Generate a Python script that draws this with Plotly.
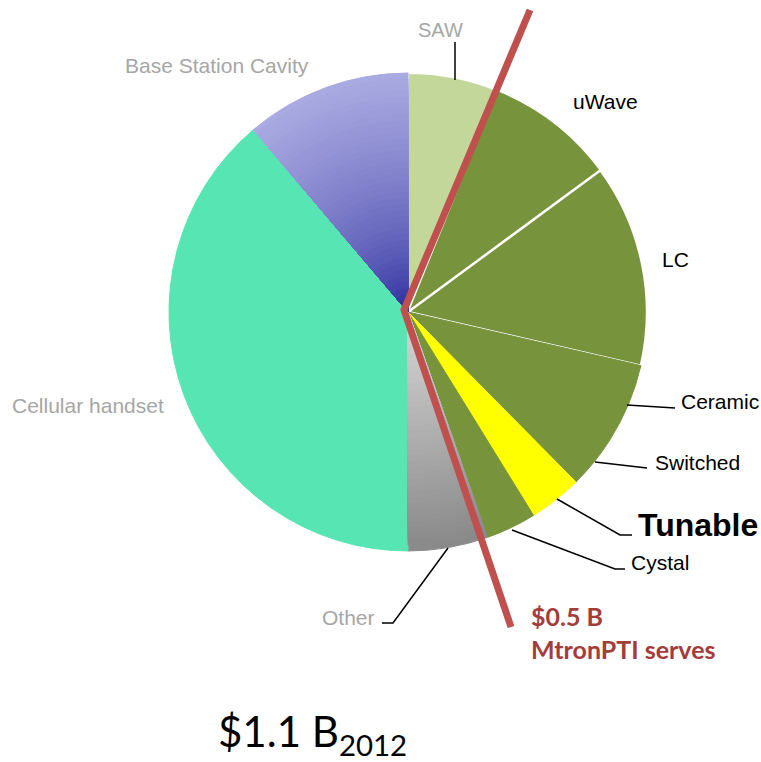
import plotly.graph_objects as go

# ---- data ----
segments = ["SAW", "uWave", "LC", "Ceramic", "Switched", "Tunable", "Cystal",
            "Other", "Cellular handset", "Base Station Cavity"]
shares = [6.1, 8.8, 13.7, 5.4, 3.6, 3.6, 3.4, 5.4, 38.8, 11.2]
slice_colors = ["#c4d79b", "#77933c", "#77933c", "#77933c", "#77933c", "#ffff00",
                "#77933c", "#8a8a8a", "#58e5b4", "#aaaae2"]
border_colors = ["white", "white", "white", "#77933c", "#77933c", "#ffff00",
                 "#77933c", "#8a8a8a", "#58e5b4", "#aaaae2"]
border_widths = [2, 1.5, 2.5, 1, 1, 1, 1, 1, 1, 1]

# radial shading (inner colour -> outer colour) for the shaded segments
shade_inner = {"Other": (216, 216, 216), "Base Station Cavity": (30, 30, 150)}
shade_outer = {"Other": (136, 136, 136), "Base Station Cavity": (170, 170, 226)}

total_label = "$1.1 B"
total_year = "2012"
served_value = "$0.5 B"
served_text = "MtronPTI serves"

W, H = 761, 762
CX, CY, R = 408, 312, 239


def px(x):
    return x / W


def py(y):
    return 1 - y / H


def dom(r):
    return dict(x=[px(CX - r), px(CX + r)], y=[py(CY + r), py(CY - r)])


fig = go.Figure()
fig.add_trace(go.Pie(
    labels=segments, values=shares, sort=False, direction="clockwise",
    rotation=0, textinfo="none", hoverinfo="label+percent",
    marker=dict(colors=slice_colors, line=dict(color=border_colors, width=border_widths)),
    domain=dom(R), showlegend=False,
))

N = 40
for k in range(1, N):
    r = R * (N - k) / N
    t = r / R - 0.5 / N
    cols = []
    for name in segments:
        if name in shade_inner:
            a, b = shade_inner[name], shade_outer[name]
            tt = t ** 0.6 if name == "Base Station Cavity" else t
            c = tuple(int(round(a[i] + (b[i] - a[i]) * tt)) for i in range(3))
            cols.append(f"rgb{c}")
        else:
            cols.append("rgba(0,0,0,0)")
    fig.add_trace(go.Pie(
        labels=segments, values=shares, sort=False, direction="clockwise",
        rotation=0, textinfo="none", hoverinfo="skip",
        marker=dict(colors=cols, line=dict(color=cols, width=1)),
        domain=dom(r), showlegend=False,
    ))

# label annotations: (text, x, y, anchor, color, size, bold)
label_specs = [
    ("SAW", 440, 30, "center", "#a6a6a6", 20, False),
    ("Base Station Cavity", 217, 66, "center", "#a6a6a6", 21, False),
    ("uWave", 605, 102, "center", "#000000", 21, False),
    ("LC", 675, 259, "center", "#000000", 21, False),
    ("Ceramic", 679, 402, "left", "#000000", 21, False),
    ("Switched", 653, 462, "left", "#000000", 21, False),
    ("Tunable", 636, 525, "left", "#000000", 32, True),
    ("Cystal", 629, 562, "left", "#000000", 21, False),
    ("Other", 377, 617, "right", "#a6a6a6", 21, False),
    ("Cellular handset", 88, 405, "center", "#a6a6a6", 21, False),
]
annotations = []
for text, x, y, anc, col, size, bold in label_specs:
    annotations.append(dict(
        text=f"<b>{text}</b>" if bold else text, x=px(x), y=py(y),
        xref="paper", yref="paper", xanchor=anc, yanchor="middle",
        showarrow=False, font=dict(family="Liberation Sans, Arial", size=size, color=col),
    ))

annotations.append(dict(
    text=f"<b>{served_value}</b>", x=px(529), y=py(616), xref="paper", yref="paper",
    xanchor="left", yanchor="middle", showarrow=False,
    font=dict(family="Lato", size=25, color="#a33c3a")))
annotations.append(dict(
    text=f"<b>{served_text}</b>", x=px(529), y=py(649), xref="paper", yref="paper",
    xanchor="left", yanchor="middle", showarrow=False,
    font=dict(family="Lato", size=25, color="#a33c3a")))
annotations.append(dict(
    text=f"{total_label}<sub>{total_year}</sub>", x=px(216), y=py(734), xref="paper", yref="paper",
    xanchor="left", yanchor="middle", showarrow=False,
    font=dict(family="Lato", size=42, color="#000000")))

# leader lines (pixel coordinates)
leaders = [
    [(455, 42), (455, 80)],
    [(627, 405), (675, 408)],
    [(595, 462), (647, 468)],
    [(557, 499), (620, 535), (632, 535)],
    [(512, 530), (615, 569), (625, 569)],
    [(448, 548), (393, 623), (382, 623)],
]
shapes = []
for pts in leaders:
    path = "M " + " L ".join(f"{px(x)} {py(y)}" for x, y in pts)
    shapes.append(dict(type="path", path=path, xref="paper", yref="paper",
                       line=dict(color="black", width=1.5)))

# red dividing line
red_pts = [(530, 10), (404, 310), (511, 627)]
shapes.append(dict(type="path", xref="paper", yref="paper",
                   path="M " + " L ".join(f"{px(x)} {py(y)}" for x, y in red_pts),
                   line=dict(color="#c0504d", width=7)))

fig.update_layout(
    width=W, height=H, margin=dict(l=0, r=0, t=0, b=0),
    paper_bgcolor="white", plot_bgcolor="white",
    annotations=annotations, shapes=shapes,
)
fig.write_html("out.html")
